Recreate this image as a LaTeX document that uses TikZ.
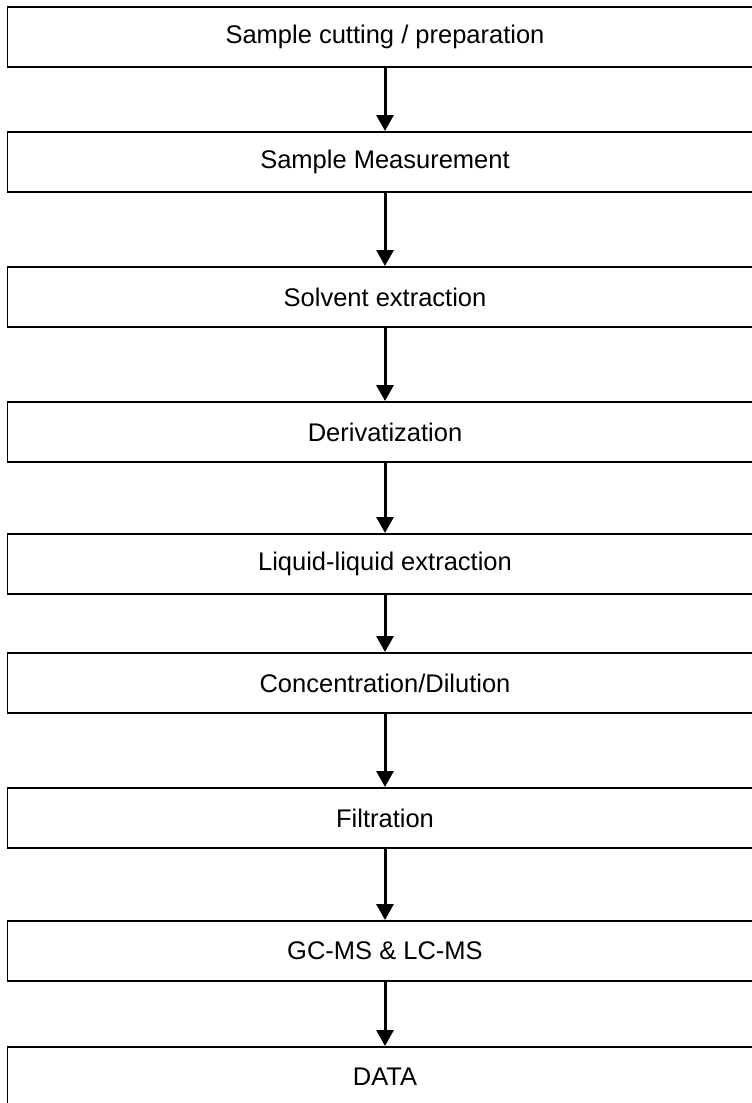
\documentclass[tikz,border=0pt]{standalone}
\usepackage{fontspec}
\setmainfont{Liberation Sans}
\usetikzlibrary{arrows.meta}
\begin{document}
\begin{tikzpicture}[x=1pt,y=-1pt,
  stepbox/.style={draw=black, line width=1.8pt, minimum width=755pt, minimum height=60pt,
    inner sep=0pt, anchor=north, font=\fontsize{25.5}{30}\selectfont},
  flow/.style={line width=3pt, -{Triangle[width=17pt,length=16pt]}}]
\useasboundingbox (0,0) rectangle (752,1103);
\clip (0,0) rectangle (752,1103);
\node[stepbox] (b1) at (385,6)    {Sample cutting / preparation};
\node[stepbox] (b2) at (385,131)  {Sample Measurement};
\node[stepbox] (b3) at (385,266)  {Solvent extraction};
\node[stepbox] (b4) at (385,401)  {Derivatization};
\node[stepbox] (b5) at (385,533)  {Liquid-liquid extraction};
\node[stepbox] (b6) at (385,652)  {Concentration/Dilution};
\node[stepbox] (b7) at (385,787)  {Filtration};
\node[stepbox] (b8) at (385,920)  {GC-MS \& LC-MS};
\node[stepbox] (b9) at (385,1046) {DATA};
\draw[flow] (b1.south) -- (b2.north);
\draw[flow] (b2.south) -- (b3.north);
\draw[flow] (b3.south) -- (b4.north);
\draw[flow] (b4.south) -- (b5.north);
\draw[flow] (b5.south) -- (b6.north);
\draw[flow] (b6.south) -- (b7.north);
\draw[flow] (b7.south) -- (b8.north);
\draw[flow] (b8.south) -- (b9.north);
\end{tikzpicture}
\end{document}
